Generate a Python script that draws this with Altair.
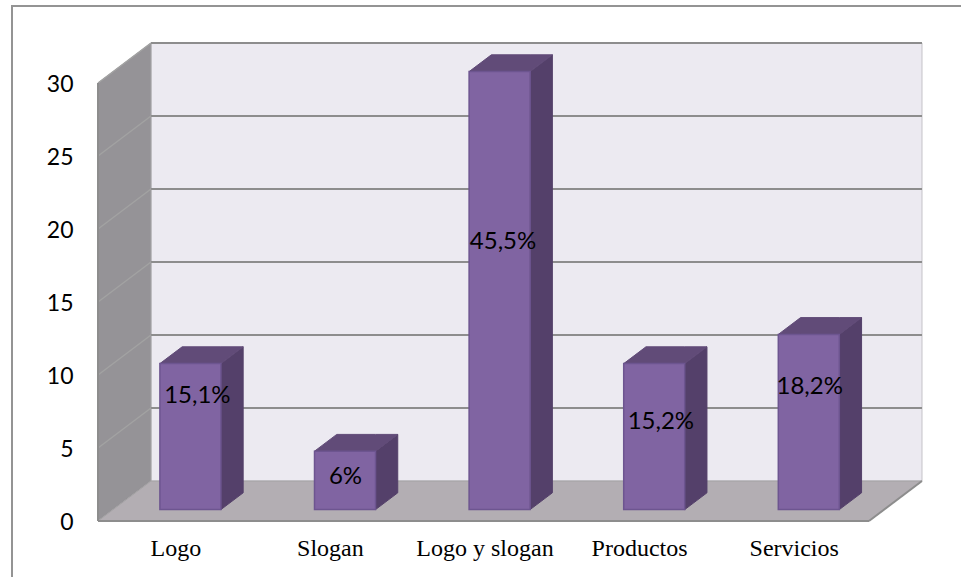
import altair as alt
import pandas as pd

# Survey categories, bar heights and the percentages printed on the bars
categories = ["Logo", "Slogan", "Logo y slogan", "Productos", "Servicios"]
values = [10, 4, 30, 10, 12]
percent_labels = ["15,1%", "6%", "45,5%", "15,2%", "18,2%"]

# Where each percentage sits: share of bar height, and sideways nudge in category units
label_rise = [0.79, 0.58, 0.615, 0.61, 0.71]
label_nudge = [0.045, 0.003, 0.022, 0.043, 0.006]

y_ticks = [0, 5, 10, 15, 20, 25, 30]
y_top = 30

# Plot area and scale factors
PLOT_W, PLOT_H = 824, 477
PX_PER_CAT, PX_PER_UNIT = 154.6, 14.6

# Oblique projection: how far the back of the box shifts, in data units
DEPTH_X = 53 / PX_PER_CAT
DEPTH_Y = 40 / PX_PER_UNIT
BAR_W = 61 / PX_PER_CAT
BAR_OFFSET, BAR_DEPTH = 0.285, 0.42

X0, X1 = -0.5, 4.487
x_scale = alt.Scale(domain=[X0, X0 + PLOT_W / PX_PER_CAT], nice=False, zero=False)
y_scale = alt.Scale(domain=[0, PLOT_H / PX_PER_UNIT], nice=False, zero=False)

names_js = "[" + ",".join(f"'{c}'" for c in categories) + "]"

# Every layer shares the same axis definitions so they merge into one pair of axes
x_enc = alt.X(
    "x:Q",
    scale=x_scale,
    title=None,
    axis=alt.Axis(
        values=list(range(len(categories))),
        labelExpr=f"{names_js}[datum.value]",
        domain=False,
        ticks=False,
        grid=False,
        labelFont="Liberation Serif",
        labelFontSize=24,
        labelColor="#000000",
        labelPadding=15,
        labelOverlap=False,
    ),
)
y_enc = alt.Y(
    "y:Q",
    scale=y_scale,
    title=None,
    axis=alt.Axis(
        values=y_ticks,
        domain=False,
        ticks=False,
        grid=False,
        labelFont="Lato",
        labelFontSize=23,
        labelColor="#000000",
        labelPadding=25,
        labelOffset=1,
        labelOverlap=False,
    ),
)


def segments(rows):
    return alt.Data(values=[dict(zip(("x", "x2", "y", "y2"), r)) for r in rows])


def rules(rows, color, width):
    return (
        alt.Chart(segments(rows))
        .mark_rule(color=color, strokeWidth=width)
        .encode(x=x_enc, x2="x2:Q", y=y_enc, y2="y2:Q")
    )


def face(rows, fill, stroke, width=1.0):
    frame = pd.DataFrame(rows, columns=["k", "x", "y", "y2"])
    return (
        alt.Chart(frame)
        .mark_area(fill=fill, stroke=stroke, strokeWidth=width, orient="vertical", opacity=1)
        .encode(x=x_enc, y=y_enc, y2="y2:Q", detail="k:N")
    )


# Outer frame: only the top and left edges show
frame_left = alt.Chart(alt.Data(values=[{}])).mark_rule(color="#949494", strokeWidth=2).encode(
    x=alt.value(-86), y=alt.value(-38), y2=alt.value(533)
)
frame_top = alt.Chart(alt.Data(values=[{}])).mark_rule(color="#949494", strokeWidth=2).encode(
    x=alt.value(-87), x2=alt.value(863), y=alt.value(-38)
)

# Back wall
wall = (
    alt.Chart(pd.DataFrame([{"x": X0 + DEPTH_X, "x2": X1 + DEPTH_X, "y": DEPTH_Y, "y2": y_top + DEPTH_Y}]))
    .mark_rect(fill="#ecEAf1", stroke="#c4c2c8", strokeWidth=1)
    .encode(x=x_enc, x2="x2:Q", y=y_enc, y2="y2:Q")
)

# Left side wall
side_wall = face(
    [("w", X0, 0, y_top), ("w", X0 + DEPTH_X, DEPTH_Y, y_top + DEPTH_Y)],
    "#959397",
    "#a3a3a5",
)

# Floor
floor = face(
    [
        ("f", X0, 0, 0),
        ("f", X0 + DEPTH_X, 0, DEPTH_Y),
        ("f", X1, 0, DEPTH_Y),
        ("f", X1 + DEPTH_X, DEPTH_Y, DEPTH_Y),
    ],
    "#b3aeb3",
    "#a4a2a4",
)

# Horizontal gridlines on the back wall and their diagonals on the side wall
grid_back = rules(
    [(X0 + DEPTH_X, X1 + DEPTH_X, t + DEPTH_Y, t + DEPTH_Y) for t in y_ticks[1:]], "#8d8d8d", 2
)
grid_side = rules(
    [(X0, X0 + DEPTH_X, t, t + DEPTH_Y) for t in y_ticks[1:]], "#a2a2a2", 1.5
)
floor_front = rules(
    [
        (X0, X1, 0, 0),
        (X1, X1 + DEPTH_X, 0, DEPTH_Y),
        (X0, X0, 0, y_top),
    ],
    "#8d8d8d",
    2,
)

# Bars: front, top and right faces
fronts, tops, sides, texts = [], [], [], []
for i, (cat, v, pct, rise, nudge) in enumerate(
    zip(categories, values, percent_labels, label_rise, label_nudge)
):
    left = i + BAR_OFFSET * DEPTH_X - BAR_W / 2
    right = left + BAR_W
    base = BAR_OFFSET * DEPTH_Y
    top = base + v
    dx, dy = BAR_DEPTH * DEPTH_X, BAR_DEPTH * DEPTH_Y
    fronts.append({"x": left, "x2": right, "y": base, "y2": top})
    tops += [
        (cat, left, top, top),
        (cat, left + dx, top, top + dy),
        (cat, right, top, top + dy),
        (cat, right + dx, top + dy, top + dy),
    ]
    sides += [(cat, right, base, top), (cat, right + dx, base + dy, top + dy)]
    texts.append({"x": (left + right) / 2 + nudge, "y": base + v * rise, "t": pct})

bar_side = face(sides, "#54406a", "#54406a")
bar_top = face(tops, "#614b78", "#614b78")
bar_front = (
    alt.Chart(pd.DataFrame(fronts))
    .mark_rect(fill="#8064a2", stroke="#6d5590", strokeWidth=1.5)
    .encode(x=x_enc, x2="x2:Q", y=y_enc, y2="y2:Q")
)
bar_text = (
    alt.Chart(pd.DataFrame(texts))
    .mark_text(font="Lato", fontSize=24, color="#000000", baseline="middle", align="center", dy=1.5)
    .encode(x=x_enc, y=y_enc, text="t:N")
)

chart = (
    alt.layer(
        wall,
        side_wall,
        floor,
        grid_back,
        grid_side,
        floor_front,
        bar_side,
        bar_top,
        bar_front,
        bar_text,
        frame_left,
        frame_top,
    )
    .properties(
        width=PLOT_W,
        height=PLOT_H,
        padding={"left": 98, "top": 44, "right": 39, "bottom": 56},
        autosize=alt.AutoSizeParams(type="none"),
        background="#ffffff",
    )
    .configure_view(stroke=None)
)

chart.save("out.html", embed_options={"renderer": "svg", "actions": False})
